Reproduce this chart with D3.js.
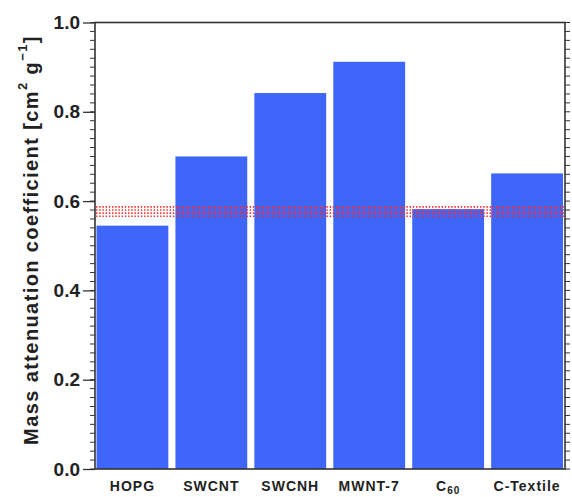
<!DOCTYPE html>
<html>
<head>
<title></title>
<style type="text/css">
  body { margin: 0; background: white; }
  text { font-family: "Liberation Sans", Arial, sans-serif; font-weight: bold; }
</style>
</head>
<body>
<div class="container"></div>
<script src="https://d3js.org/d3.v7.min.js"></script>
<script type="text/javascript">
var samples = ["HOPG", "SWCNT", "SWCNH", "MWNT-7", "C60", "C-Textile"]
var coeff = [0.545, 0.70, 0.842, 0.912, 0.582, 0.662]
var refLines = [0.566, 0.573, 0.580, 0.587]
var yTicks = [0.0, 0.2, 0.4, 0.6, 0.8, 1.0]

var wd = 572, ht = 497
var pL = 95, pR = 565, pT = 22.5, pB = 469

var svg = d3.select(".container").append("svg")
  .attr("width", wd)
  .attr("height", ht)

var x = d3.scaleBand()
  .domain(samples)
  .range([96.5, 563])
  .paddingInner(0.09)
  .paddingOuter(0)

var y = d3.scaleLinear()
  .domain([0, 1])
  .range([pB, pT])

// bars
svg.selectAll("rect.bar")
  .data(samples)
  .enter().append("rect")
  .attr("class", "bar")
  .attr("x", function(d) { return x(d) })
  .attr("width", x.bandwidth())
  .attr("y", function(d, i) { return y(coeff[i]) })
  .attr("height", function(d, i) { return y(0) - y(coeff[i]) })
  .attr("fill", "#3e66fb")

// red dotted reference band
svg.selectAll("line.ref")
  .data(refLines)
  .enter().append("line")
  .attr("class", "ref")
  .attr("x1", pL + 1).attr("x2", pR - 1)
  .attr("y1", function(d) { return y(d) })
  .attr("y2", function(d) { return y(d) })
  .attr("stroke", "#ff2a2a")
  .attr("stroke-width", 1.6)
  .attr("stroke-dasharray", "1.4,1.8")

// minor ticks, left and right, pointing outward
var minor = d3.range(0, 51).map(function(i) { return i / 50 })
svg.selectAll("line.minl")
  .data(minor)
  .enter().append("line")
  .attr("class", "minl")
  .attr("x1", pL - 5).attr("x2", pL)
  .attr("y1", function(d) { return y(d) }).attr("y2", function(d) { return y(d) })
  .attr("stroke", "#333").attr("stroke-width", 1)
svg.selectAll("line.minr")
  .data(minor)
  .enter().append("line")
  .attr("class", "minr")
  .attr("x1", pR).attr("x2", pR + 5)
  .attr("y1", function(d) { return y(d) }).attr("y2", function(d) { return y(d) })
  .attr("stroke", "#333").attr("stroke-width", 1)

var yAxis = d3.axisLeft(y)
  .tickValues(yTicks)
  .tickFormat(d3.format(".1f"))
  .tickSize(12)
  .tickPadding(3)

var ga = svg.append("g")
  .attr("transform", "translate(" + pL + ",0)")
  .call(yAxis)
ga.select(".domain").remove()
ga.selectAll(".tick line").attr("stroke", "#333").attr("stroke-width", 1.3)
ga.selectAll(".tick text")
  .attr("fill", "#222")
  .style("font-size", "19px")

// frame
svg.append("rect")
  .attr("x", pL).attr("y", pT)
  .attr("width", pR - pL).attr("height", pB - pT)
  .attr("fill", "none")
  .attr("stroke", "#333")
  .attr("stroke-width", 1.6)

// category labels
var lab = svg.selectAll("text.cat")
  .data(samples)
  .enter().append("text")
  .attr("class", "cat")
  .attr("x", function(d) { return x(d) + x.bandwidth() / 2 })
  .attr("y", 491)
  .attr("text-anchor", "middle")
  .attr("fill", "#222")
  .style("font-size", "14px")
  .style("letter-spacing", "1px")
lab.each(function(d) {
  var t = d3.select(this)
  if (d === "C60") {
    t.append("tspan").text("C")
    t.append("tspan").attr("dy", 3).style("font-size", "10px").text("60")
  } else {
    t.text(d)
  }
})

// y axis title
var yt = svg.append("text")
  .attr("transform", "translate(38," + 240 + ") rotate(-90)")
  .attr("text-anchor", "middle")
  .attr("fill", "#222")
  .style("font-size", "20px")
  .style("letter-spacing", "1.4px")
yt.append("tspan").text("Mass attenuation coefficient [cm")
yt.append("tspan").attr("dy", -11).style("font-size", "13px").text("2")
yt.append("tspan").attr("dy", 11).text(" g")
yt.append("tspan").attr("dy", -11).style("font-size", "13px").text("\u22121")
yt.append("tspan").attr("dy", 11).text("]")
</script>
</body>
</html>
